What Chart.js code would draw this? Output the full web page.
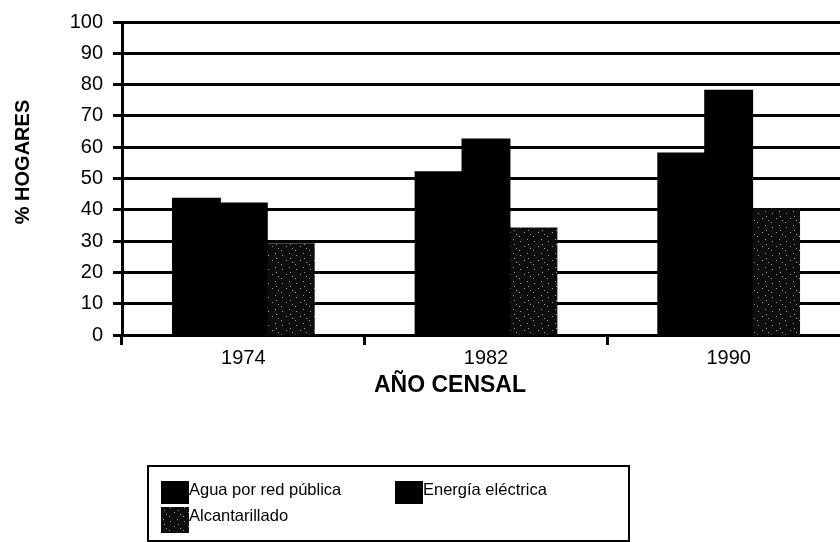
<!DOCTYPE html>
<html>
<head>
<meta charset="utf-8">
<script src="https://cdn.jsdelivr.net/npm/chart.js@4/dist/chart.umd.min.js"></script>
<style>
  html, body { margin: 0; padding: 0; background: #fff; overflow: hidden; }
  #wrap { position: relative; width: 850px; height: 542px; }
</style>
</head>
<body>
<div id="wrap"><canvas id="chart"></canvas></div>
<script>
"use strict";

// ── Data ─────────────────────────────────────────────────────────────────────
const YEARS        = ["1974", "1982", "1990"];
const AGUA         = [43.5, 52, 58];
const ENERGIA      = [42, 62.5, 78];
const ALCANTARILLA = [29, 34, 40];
const SERIES_NAMES = ["Agua por red pública", "Energía eléctrica", "Alcantarillado"];
const Y_TITLE      = "% HOGARES";
const X_TITLE      = "AÑO CENSAL";

// ── Speckled fill for the third series ───────────────────────────────────────
function speckle() {
  const c = document.createElement("canvas");
  c.width = 14; c.height = 14;
  const g = c.getContext("2d");
  g.fillStyle = "#0d0d0d";
  g.fillRect(0, 0, 14, 14);
  g.fillStyle = "#9a9a9a";
  [[2, 3], [9, 1], [6, 8], [12, 10], [1, 12], [10, 6]].forEach(([x, y]) => g.fillRect(x, y, 1, 1));
  return g.createPattern(c, "repeat");
}
const SPECKLE = speckle();

// ── Titles + legend box drawn on the canvas ─────────────────────────────────
const extras = {
  id: "extras",
  afterDraw(chart) {
    const ctx = chart.ctx;
    ctx.save();
    ctx.fillStyle = "#000";

    // y title
    ctx.font = "bold 20px 'Liberation Sans', Arial, sans-serif";
    ctx.textAlign = "center";
    ctx.textBaseline = "middle";
    ctx.save();
    ctx.translate(23, 162);
    ctx.rotate(-Math.PI / 2);
    ctx.fillText(Y_TITLE, 0, 0);
    ctx.restore();

    // x title
    ctx.font = "bold 23px 'Liberation Sans', Arial, sans-serif";
    ctx.fillText(X_TITLE, 450, 386);

    // legend
    ctx.lineWidth = 2;
    ctx.strokeStyle = "#000";
    ctx.strokeRect(148, 466, 481, 75);
    const items = [
      { x: 161, y: 481, h: 23, i: 0 },
      { x: 395, y: 481, h: 23, i: 1 },
      { x: 161, y: 507, h: 26, i: 2 },
    ];
    ctx.font = "16.5px 'Liberation Sans', Arial, sans-serif";
    ctx.textAlign = "left";
    ctx.textBaseline = "alphabetic";
    items.forEach(it => {
      const ds = chart.data.datasets[it.i];
      ctx.fillStyle = ds.backgroundColor;
      ctx.fillRect(it.x, it.y, 28, it.h);
      ctx.fillStyle = "#000";
      ctx.fillText(ds.label, it.x + 28, it.y + 14);
    });
    ctx.restore();
  },
};

// ── Chart ────────────────────────────────────────────────────────────────────
const tickFont = { family: "'Liberation Sans', Arial, sans-serif", size: 20 };

new Chart(document.getElementById("chart"), {
  type: "bar",
  data: {
    labels: YEARS,
    datasets: [
      { label: SERIES_NAMES[0], data: AGUA,         backgroundColor: "#000" },
      { label: SERIES_NAMES[1], data: ENERGIA,      backgroundColor: "#000" },
      { label: SERIES_NAMES[2], data: ALCANTARILLA, backgroundColor: SPECKLE },
    ],
  },
  options: {
    responsive: true,
    maintainAspectRatio: false,
    animation: false,
    events: [],
    layout: { padding: { top: 22, bottom: 147, left: 0, right: 0 } },
    datasets: { bar: { categoryPercentage: 0.58, barPercentage: 1.0, borderWidth: 0, inflateAmount: 1 } },
    plugins: { legend: { display: false }, tooltip: { enabled: false } },
    scales: {
      x: {
        afterFit: (s) => { s.height = 60; },
        grid: { display: true, offset: true, drawOnChartArea: false, drawTicks: true,
                tickLength: 10, color: "#000", lineWidth: 3 },
        border: { display: true, color: "#000", width: 3 },
        ticks: { color: "#000", font: tickFont, padding: 1 },
      },
      y: {
        min: 0, max: 100,
        afterFit: (s) => { s.width = 122; },
        grid: { color: "#000", lineWidth: 3, tickLength: 9 },
        border: { display: true, color: "#000", width: 3 },
        ticks: { stepSize: 10, color: "#000", font: tickFont, padding: 10 },
      },
    },
  },
  plugins: [extras],
});
</script>
</body>
</html>
